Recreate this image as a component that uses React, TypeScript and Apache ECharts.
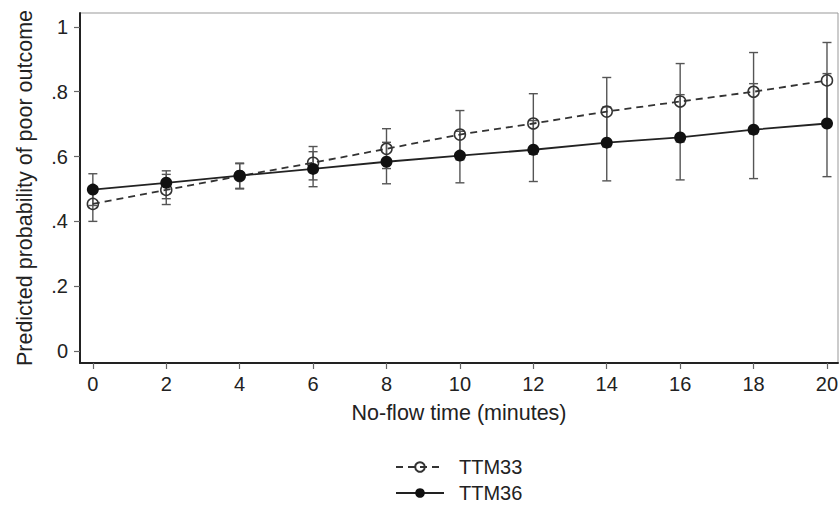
import React, { useEffect, useRef } from "react";
import * as echarts from "echarts";

const xValues = [0, 2, 4, 6, 8, 10, 12, 14, 16, 18, 20];
const ttm33Mean = [0.454, 0.497, 0.54, 0.581, 0.624, 0.668, 0.702, 0.739, 0.77, 0.8, 0.835];
const ttm33Lower = [0.4, 0.452, 0.5, 0.528, 0.563, 0.59, 0.607, 0.63, 0.645, 0.67, 0.7];
const ttm33Upper = [0.508, 0.545, 0.58, 0.631, 0.686, 0.742, 0.794, 0.844, 0.887, 0.921, 0.952];
const ttm36Mean = [0.498, 0.519, 0.541, 0.562, 0.584, 0.603, 0.621, 0.643, 0.659, 0.683, 0.702];
const ttm36Lower = [0.449, 0.47, 0.502, 0.507, 0.516, 0.519, 0.523, 0.525, 0.528, 0.532, 0.538];
const ttm36Upper = [0.547, 0.556, 0.578, 0.615, 0.644, 0.678, 0.711, 0.753, 0.791, 0.825, 0.856];
const xTicks = [0, 2, 4, 6, 8, 10, 12, 14, 16, 18, 20];
const yTicks = [0, 0.2, 0.4, 0.6, 0.8, 1];
const yTickLabels = ["0", ".2", ".4", ".6", ".8", "1"];

const FONT = "Liberation Sans, Arial, Helvetica, sans-serif";
const TEXT = "#222";

function errorBarSeries(name: string, lower: number[], upper: number[]) {
  return {
    type: "custom",
    name: name + "-ci",
    z: 1,
    silent: true,
    data: xValues.map((x, i) => [x, lower[i], upper[i]]),
    renderItem: (params: any, api: any) => {
      const x = api.value(0);
      const lo = api.coord([x, api.value(1)]);
      const hi = api.coord([x, api.value(2)]);
      const cap = 4.5;
      const style = { stroke: "#555", lineWidth: 1.4 };
      return {
        type: "group",
        children: [
          { type: "line", shape: { x1: lo[0], y1: lo[1], x2: hi[0], y2: hi[1] }, style },
          { type: "line", shape: { x1: lo[0] - cap, y1: lo[1], x2: lo[0] + cap, y2: lo[1] }, style },
          { type: "line", shape: { x1: hi[0] - cap, y1: hi[1], x2: hi[0] + cap, y2: hi[1] }, style },
        ],
      };
    },
  };
}

export default function App() {
  const ref = useRef<HTMLDivElement>(null);
  useEffect(() => {
    if (!ref.current) return;
    const chart = echarts.init(ref.current, null, { renderer: "svg" });
    chart.setOption({
      animation: false,
      backgroundColor: "#fff",
      textStyle: { fontFamily: FONT },
      grid: {
        left: 80,
        right: 2,
        top: 13,
        bottom: 143,
        show: true,
        borderColor: "#999",
        borderWidth: 1,
        backgroundColor: "#fff",
        outerBoundsMode: "none",
      },
      legend: {
        orient: "vertical",
        left: 395,
        top: 457,
        padding: 0,
        itemWidth: 48,
        itemHeight: 12,
        itemGap: 6,
        data: ["TTM33", "TTM36"],
        textStyle: { fontSize: 20, color: TEXT, fontFamily: FONT, padding: [0, 0, 0, 10] },
      },
      xAxis: {
        type: "value",
        min: -0.35,
        max: 20.3,
        name: "No-flow time (minutes)",
        nameLocation: "middle",
        nameGap: 39,
        nameTextStyle: { fontSize: 21.5, color: TEXT, fontFamily: FONT },
        axisLine: { onZero: false, lineStyle: { color: "#222", width: 2 } },
        axisTick: { show: true, customValues: xTicks, length: 6, lineStyle: { color: "#666", width: 1.2 } },
        axisLabel: {
          customValues: xTicks,
          fontSize: 20,
          color: TEXT,
          fontFamily: FONT,
          margin: 11,
        },
        splitLine: { show: false },
      },
      yAxis: {
        type: "value",
        min: -0.037,
        max: 1.043,
        name: "Predicted probability of poor outcome",
        nameLocation: "middle",
        nameGap: 44,
        nameTextStyle: { fontSize: 21.5, color: TEXT, fontFamily: FONT },
        axisLine: { show: true, onZero: false, lineStyle: { color: "#222", width: 2 } },
        axisTick: { show: true, customValues: yTicks, length: 6, lineStyle: { color: "#666", width: 1.2 } },
        axisLabel: {
          customValues: yTicks,
          fontSize: 20,
          color: TEXT,
          fontFamily: FONT,
          margin: 12,
          formatter: (v: number) => {
            const idx = yTicks.findIndex((t) => Math.abs(t - v) < 1e-6);
            return idx >= 0 ? yTickLabels[idx] : "";
          },
        },
        splitLine: { show: false },
      },
      series: [
        errorBarSeries("TTM33", ttm33Lower, ttm33Upper),
        errorBarSeries("TTM36", ttm36Lower, ttm36Upper),
        {
          type: "line",
          name: "TTM33",
          z: 3,
          data: xValues.map((x, i) => [x, ttm33Mean[i]]),
          symbol: "circle",
          symbolSize: 11,
          lineStyle: { color: "#333", width: 1.8, type: [7, 5] },
          itemStyle: { color: "rgba(255,255,255,0)", borderColor: "#333", borderWidth: 1.5 },
        },
        {
          type: "line",
          name: "TTM36",
          z: 4,
          data: xValues.map((x, i) => [x, ttm36Mean[i]]),
          symbol: "circle",
          symbolSize: 12,
          lineStyle: { color: "#222", width: 1.8 },
          itemStyle: { color: "#111", borderColor: "#111", borderWidth: 0 },
        },
      ],
    });
    return () => chart.dispose();
  }, []);
  return (
    <div
      ref={ref}
      style={{ position: "absolute", left: 0, top: 0, width: 840, height: 506 }}
    />
  );
}
